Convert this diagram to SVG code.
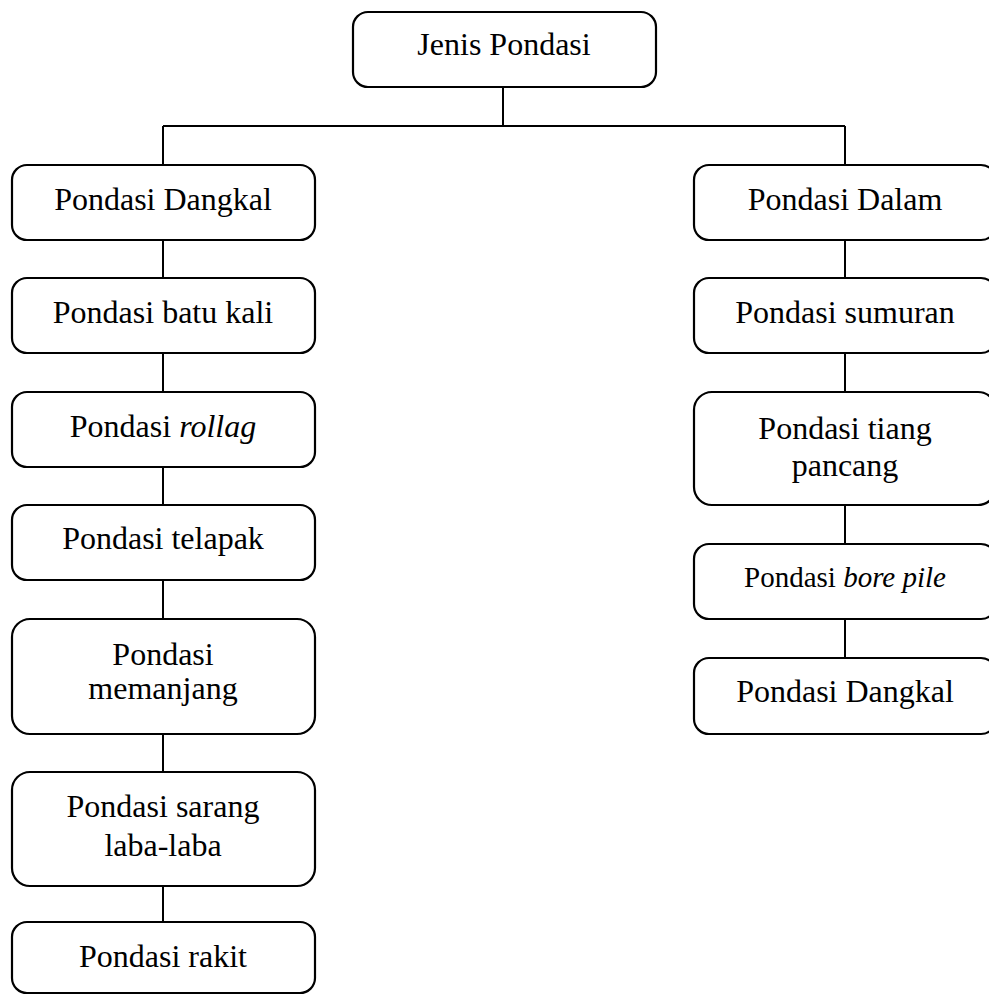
<svg xmlns="http://www.w3.org/2000/svg" width="989" height="995" viewBox="0 0 989 995">
<style>
.box{fill:#fff;stroke:#000;stroke-width:2.2}
.t{font-family:"Liberation Serif","Times New Roman",serif;font-size:32px;fill:#000;text-anchor:middle}
.sm{font-size:29px}
.conn line,.conn path{stroke:#000;stroke-width:2;fill:none}
</style>
<rect width="989" height="995" fill="#fff"/>
<g class="conn" id="connectors">
<path d="M503 87V126M163 126H845M163 126V165M845 126V165"/>
<line x1="163" y1="240" x2="163" y2="278"/>
<line x1="163" y1="353" x2="163" y2="392"/>
<line x1="163" y1="467" x2="163" y2="505"/>
<line x1="163" y1="580" x2="163" y2="619"/>
<line x1="163" y1="734" x2="163" y2="772"/>
<line x1="163" y1="886" x2="163" y2="922"/>
<line x1="845" y1="240" x2="845" y2="278"/>
<line x1="845" y1="353" x2="845" y2="392"/>
<line x1="845" y1="505" x2="845" y2="544"/>
<line x1="845" y1="619" x2="845" y2="658"/>
</g>
<g id="jenis"><rect class="box" x="353" y="12" width="303" height="75" rx="15"/><text class="t" x="504" y="55">Jenis Pondasi</text></g>
<g id="dangkal"><rect class="box" x="12" y="165" width="303" height="75" rx="15"/><text class="t" x="163" y="210">Pondasi Dangkal</text></g>
<g id="batukali"><rect class="box" x="12" y="278" width="303" height="75" rx="15"/><text class="t" x="163" y="323">Pondasi batu kali</text></g>
<g id="rollag"><rect class="box" x="12" y="392" width="303" height="75" rx="15"/><text class="t" x="163" y="437">Pondasi <tspan font-style="italic">rollag</tspan></text></g>
<g id="telapak"><rect class="box" x="12" y="505" width="303" height="75" rx="15"/><text class="t" x="163" y="549">Pondasi telapak</text></g>
<g id="memanjang"><rect class="box" x="12" y="619" width="303" height="115" rx="18"/><text class="t" x="163" y="665">Pondasi</text><text class="t" x="163" y="699">memanjang</text></g>
<g id="sarang"><rect class="box" x="12" y="772" width="303" height="114" rx="18"/><text class="t" x="163" y="817">Pondasi sarang</text><text class="t" x="163" y="856">laba-laba</text></g>
<g id="rakit"><rect class="box" x="12" y="922" width="303" height="71" rx="15"/><text class="t" x="163" y="967">Pondasi rakit</text></g>
<g id="dalam"><rect class="box" x="694" y="165" width="302" height="75" rx="15"/><text class="t" x="845" y="210">Pondasi Dalam</text></g>
<g id="sumuran"><rect class="box" x="694" y="278" width="302" height="75" rx="15"/><text class="t" x="845" y="323">Pondasi sumuran</text></g>
<g id="tiang"><rect class="box" x="694" y="392" width="302" height="113" rx="18"/><text class="t" x="845" y="439">Pondasi tiang</text><text class="t" x="845" y="476">pancang</text></g>
<g id="borepile"><rect class="box" x="694" y="544" width="302" height="75" rx="15"/><text class="t sm" x="845" y="587">Pondasi <tspan font-style="italic">bore pile</tspan></text></g>
<g id="dangkal2"><rect class="box" x="694" y="658" width="302" height="76" rx="15"/><text class="t" x="845" y="702">Pondasi Dangkal</text></g>
</svg>
